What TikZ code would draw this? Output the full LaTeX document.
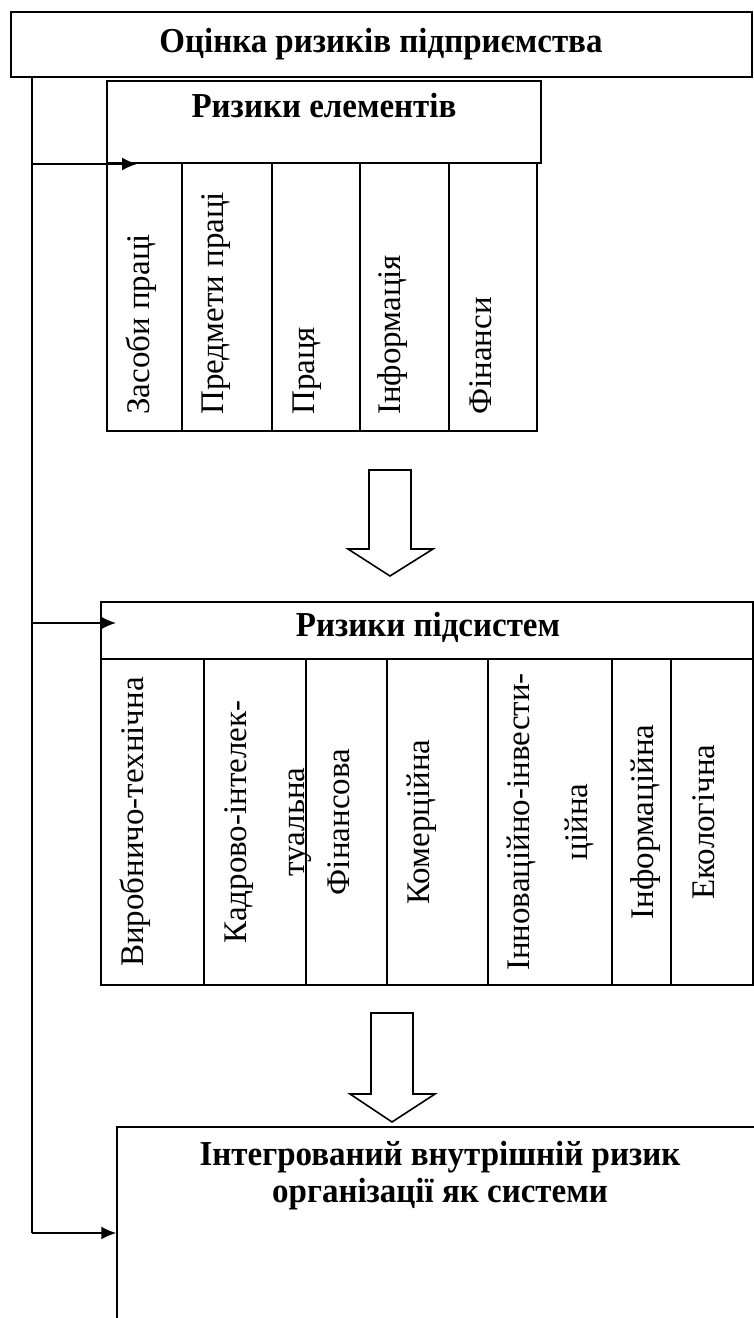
\documentclass[tikz,border=0pt]{standalone}
\usepackage{fontspec}
\setmainfont{Liberation Serif}
\usetikzlibrary{positioning,arrows.meta}

\begin{document}
\begin{tikzpicture}[x=1pt,y=-1pt,font=\fontsize{33}{38}\selectfont]
        % Setup the styles for the boxes and texts
        \tikzset{box style/.style={draw, rectangle, line width=1.5pt, inner sep=0pt},
                 head style/.style={font=\fontsize{33}{35}\selectfont\bfseries, align=center, yscale=1.06},
                 col style/.style={rotate=90, inner sep=0pt, align=center},
                 feed style/.style={line width=1.6pt, -{Latex[length=15pt,width=13pt]}},
                 block style/.style={draw, line width=1.6pt, fill=white}}
        \useasboundingbox (0,0) rectangle (754,1318);

        % Draw the top box
        \node[box style, line width=1.8pt, minimum width=741pt, minimum height=65pt] at (381.5,44.5) (estimate) {};
        \node[head style] at (381,44) (estimatetext) {Оцінка ризиків підприємства};

        % Draw the element risks
        \node[box style, minimum width=434pt, minimum height=82pt] at (324,122) (elements) {};
        \node[head style] at (324,106) (elementstext) {Ризики елементів};
        \node[box style, minimum width=75pt, minimum height=268pt] at (144.5,297) (e1) {};
        \node[box style, minimum width=90pt, minimum height=268pt] at (227,297) (e2) {};
        \node[box style, minimum width=88pt, minimum height=268pt] at (316,297) (e3) {};
        \node[box style, minimum width=89pt, minimum height=268pt] at (404.5,297) (e4) {};
        \node[box style, minimum width=88pt, minimum height=268pt] at (493,297) (e5) {};
        \node[col style, anchor=west] at (141,415) (e1text) {Засоби праці};
        \node[col style, anchor=west] at (216,415) (e2text) {Предмети праці};
        \node[col style, anchor=west] at (307,415) (e3text) {Праця};
        \node[col style, anchor=west] at (393,415) (e4text) {Інформація};
        \node[col style, anchor=west] at (481,415) (e5text) {Фінанси};

        % Draw the subsystem risks
        \node[box style, minimum width=652pt, minimum height=57pt] at (427,630.5) (subsystems) {};
        \node[head style] at (428,627) (subsystemstext) {Ризики підсистем};
        \node[box style, minimum width=103pt, minimum height=326pt] at (152.5,822) (s1) {};
        \node[box style, minimum width=102pt, minimum height=326pt] at (255,822) (s2) {};
        \node[box style, minimum width=81pt, minimum height=326pt] at (346.5,822) (s3) {};
        \node[box style, minimum width=101pt, minimum height=326pt] at (437.5,822) (s4) {};
        \node[box style, minimum width=124pt, minimum height=326pt] at (550,822) (s5) {};
        \node[box style, minimum width=59pt, minimum height=326pt] at (641.5,822) (s6) {};
        \node[box style, minimum width=82pt, minimum height=326pt] at (712,822) (s7) {};
        \node[col style] at (135,822) (s1text) {Виробничо-технічна};
        \node[col style, font=\fontsize{33}{58}\selectfont] at (268,822) (s2text) {Кадрово-інтелек-\\туальна};
        \node[col style] at (339,822) (s3text) {Фінансова};
        \node[col style] at (422,822) (s4text) {Комерційна};
        \node[col style, font=\fontsize{33}{58}\selectfont] at (550,822) (s5text) {Інноваційно-інвести-\\ційна};
        \node[col style] at (646,822) (s6text) {Інформаційна};
        \node[col style] at (704,822) (s7text) {Екологічна};

        % Draw the integrated risk
        \node[box style, minimum width=683pt, minimum height=273pt] at (458.5,1263.5) (integrated) {};
        \node[head style] at (440,1176) (integratedtext) {Інтегрований внутрішній ризик\\організації як системи};

        % Draw the block arrows
        \draw[block style] (369,470) -- (411,470) -- (411,549) -- (433,549) -- (390,576)
                           -- (348,549) -- (369,549) -- cycle;
        \draw[block style] (371,1013) -- (413,1013) -- (413,1094) -- (435,1094) -- (392,1122)
                           -- (350,1094) -- (371,1094) -- cycle;

        % Connect the spine with the levels
        \coordinate (spine) at (32,77);
        \coordinate (in1) at (137,164);
        \coordinate (in2) at (116,623);
        \coordinate (in3) at (integrated.west |- 0,1233);
        \draw[line width=1.6pt] (spine) -- (spine |- in3);
        \draw[feed style] (spine |- in1) -- (in1);
        \draw[feed style] (spine |- in2) -- (in2);
        \draw[feed style] (spine |- in3) -- (in3);
\end{tikzpicture}
\end{document}
